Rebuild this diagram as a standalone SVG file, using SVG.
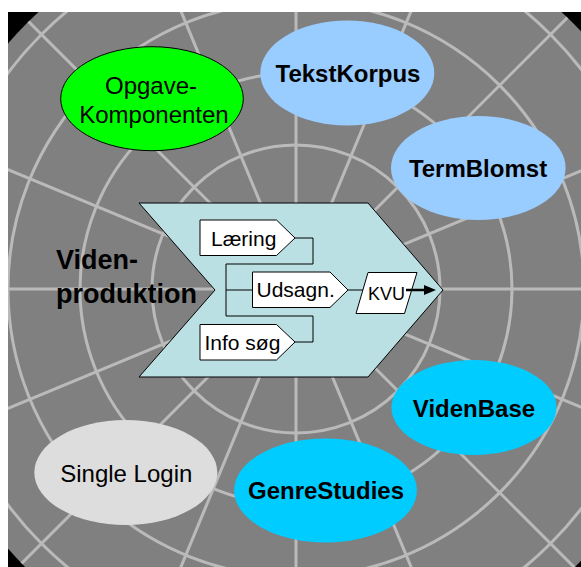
<svg xmlns="http://www.w3.org/2000/svg" width="581" height="567" viewBox="0 0 581 567">
<defs>
<style>
.grid{fill:none;stroke:#bababa;stroke-width:3}
.t{font-family:"Liberation Sans",Arial,sans-serif;fill:#000}
.lbl{font-size:24px;text-anchor:middle}
.b{font-weight:bold}
.in{font-size:21px}
.box{fill:#fff;stroke:#000;stroke-width:1}
.con{fill:none;stroke:#000;stroke-width:1}
</style>
<clipPath id="frame"><rect x="8" y="12" width="573" height="555"/></clipPath>
<clipPath id="disc"><circle cx="300" cy="296" r="386"/></clipPath>
<marker id="arr" markerUnits="userSpaceOnUse" markerWidth="12" markerHeight="10" refX="2" refY="5" orient="auto">
<path d="M0,0 L12,5 L0,10 Z" fill="#000"/>
</marker>
</defs>
<g id="background" clip-path="url(#frame)">
<rect x="8" y="12" width="573" height="555" fill="#000"/>
<g clip-path="url(#disc)">
<rect x="8" y="12" width="573" height="555" fill="#808080"/>
<g class="grid">
<circle cx="296" cy="289" r="72"/>
<circle cx="296" cy="289" r="144"/>
<circle cx="296" cy="289" r="216"/>
<circle cx="296" cy="289" r="288"/>
<circle cx="296" cy="289" r="360"/>
<line x1="-204" y1="289" x2="796" y2="289"/>
<line x1="-166" y1="97.7" x2="758" y2="480.3"/>
<line x1="-57.6" y1="-64.6" x2="649.6" y2="642.6"/>
<line x1="104.7" y1="-173" x2="487.3" y2="751"/>
<line x1="296" y1="-211" x2="296" y2="789"/>
<line x1="487.3" y1="-173" x2="104.7" y2="751"/>
<line x1="649.6" y1="-64.6" x2="-57.6" y2="642.6"/>
<line x1="758" y1="97.7" x2="-166" y2="480.3"/>
</g>
</g>
</g>
<g id="opgave">
<ellipse cx="152" cy="98.7" rx="91.3" ry="52" fill="#00ff00" stroke="#000" stroke-width="1"/>
<text class="t lbl" x="151" y="94">Opgave-</text>
<text class="t lbl" x="154" y="122.7">Komponenten</text>
</g>
<g id="tekstkorpus">
<ellipse cx="347.3" cy="73" rx="87" ry="52.5" fill="#99ccff"/>
<text class="t lbl b" x="348" y="81.7">TekstKorpus</text>
</g>
<g id="termblomst">
<ellipse cx="478.3" cy="168" rx="87.3" ry="52" fill="#99ccff"/>
<text class="t lbl b" x="478" y="177.3">TermBlomst</text>
</g>
<g id="videnbase">
<ellipse cx="474" cy="407.5" rx="82.5" ry="47.5" fill="#00ccff"/>
<text class="t lbl b" x="474" y="416.7">VidenBase</text>
</g>
<g id="genrestudies">
<ellipse cx="325.5" cy="490.4" rx="91.4" ry="52" fill="#00ccff"/>
<text class="t lbl b" x="326" y="499">GenreStudies</text>
</g>
<g id="singlelogin">
<ellipse cx="125.8" cy="472.5" rx="91.5" ry="52.5" fill="#dddddd"/>
<text class="t lbl" x="126.3" y="481.7">Single Login</text>
</g>
<g id="videnproduktion">
<polygon points="139,203 368,203 443,290 368,377 139,377 215,290" fill="#bbe0e3" stroke="#000" stroke-width="1"/>
<text class="t b" font-size="27" x="56" y="269.3">Viden-</text>
<text class="t b" font-size="27" x="56" y="302.7">produktion</text>
</g>
<g id="laering">
<path class="box" d="M200,220 H276.5 L295,238 L276.5,255.5 H200 Z"/>
<text class="t in" x="211" y="245.5">Læring</text>
</g>
<g id="udsagn">
<path class="box" d="M252.5,272 H330 L348,290 L330,307.5 H252.5 Z"/>
<text class="t in" x="256.5" y="297.3">Udsagn.</text>
</g>
<g id="infosog">
<path class="box" d="M200,324.5 H276.5 L295,342 L276.5,360 H200 Z"/>
<text class="t in" x="204.5" y="349.7">Info søg</text>
</g>
<g id="kvu">
<polygon class="box" points="368,272.5 417,272.5 404.5,313.5 356,313.5"/>
<text class="t" font-size="18" text-anchor="middle" x="386.5" y="300">KVU</text>
</g>
<g id="connectors">
<polyline class="con" points="295,238 313,238 313,264 226,264 226,316 313,316 313,342 295,342"/>
<line class="con" x1="226" y1="290" x2="252.5" y2="290"/>
<line class="con" x1="348" y1="290" x2="363" y2="290"/>
<line x1="406" y1="290" x2="426" y2="290" stroke="#000" stroke-width="2.5" marker-end="url(#arr)"/>
</g>
</svg>
